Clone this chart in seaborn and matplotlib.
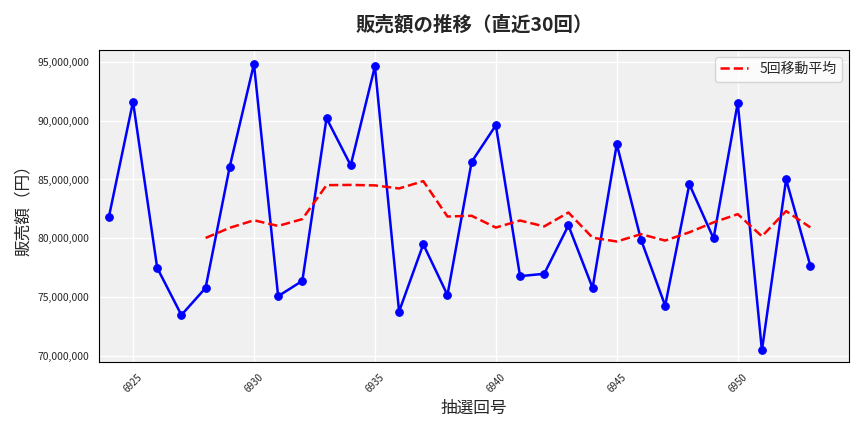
import pandas as pd
import numpy as np
import seaborn as sns
import matplotlib.pyplot as plt
import matplotlib.ticker as mticker

# draw numbers and sales
draws = list(range(6924, 6954))
sales = [81.8, 91.6, 77.5, 73.5, 75.8, 86.1, 94.8, 75.1, 76.4, 90.2,
         86.2, 94.6, 73.8, 79.5, 75.2, 86.5, 89.6, 76.8, 77.0, 81.1,
         75.8, 88.0, 79.9, 74.3, 84.6, 80.0, 91.5, 70.5, 85.0, 77.7]

df = pd.DataFrame({"draw": draws, "sales": np.array(sales) * 1e6})
df["ma5"] = df["sales"].rolling(5).mean()

sns.set_style("whitegrid")
plt.rcParams['font.family'] = ['Noto Sans CJK JP', 'DejaVu Sans']

fig, ax = plt.subplots(figsize=(8.64, 4.32), dpi=100)
ax.set_facecolor("#f0f0f0")
ax.grid(color="white", linewidth=1)

sns.lineplot(data=df, x="draw", y="sales", color="blue", marker="o",
             markersize=5.5, markeredgecolor="blue", linewidth=1.8, ax=ax)
sns.lineplot(data=df, x="draw", y="ma5", color="red", linestyle="--",
             linewidth=1.8, label="5回移動平均", ax=ax)

ax.yaxis.set_major_formatter(mticker.FuncFormatter(lambda v, p: f"{int(v):,}"))
ax.xaxis.set_major_locator(mticker.MultipleLocator(5))
ax.tick_params(axis="x", labelrotation=45, labelsize=7)
ax.tick_params(axis="y", labelsize=7.5)
ax.set_xlim(6923.6, 6954.6)
ax.set_ylim(69.5e6, 96e6)
ax.set_xlabel("抽選回号", size=12)
ax.set_ylabel("販売額（円）", size=12)
ax.set_title("販売額の推移（直近30回）", size=14, fontweight="bold", pad=14)
ax.legend(loc="upper right", fontsize=10)
for s in ax.spines.values():
    s.set_color("black")
    s.set_linewidth(0.8)

plt.tight_layout()
plt.savefig("out.png", dpi=100)
